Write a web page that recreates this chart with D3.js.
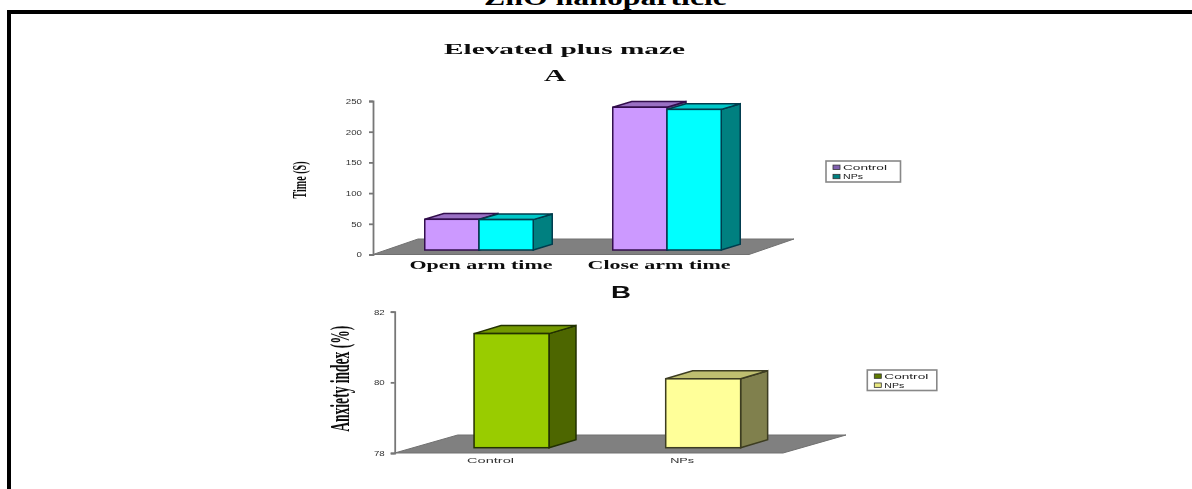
<!DOCTYPE html>
<html>
<head>
<meta charset="utf-8">
<script src="https://cdn.jsdelivr.net/npm/d3@7"></script>
<style>
html,body{margin:0;padding:0;background:#fff;overflow:hidden}
svg{display:block}
</style>
</head>
<body>
<svg id="c" width="1192" height="489"></svg>
<script>
// ---- data ----
const pageTitle = "ZnO nanoparticle";
const mainTitle = "Elevated plus maze";
const panelA = "A", panelB = "B";
const seriesNames = ["Control", "NPs"];
const categoriesA = ["Open arm time", "Close arm time"];
const controlA = [50, 232.5];
const npsA = [49.5, 229];
const ticksA = [0, 50, 100, 150, 200, 250];
const yLabelA = "Time (S)";
const categoriesB = ["Control", "NPs"];
const valuesB = [81.23, 79.95];
const ticksB = [78, 80, 82];
const yLabelB = "Anxiety index (%)";

// ---- styles ----
const purple = {front:"#CC99FF", top:"#9A70C4", side:"#66508A", line:"#33104d"};
const cyan   = {front:"#00FFFF", top:"#00C8C8", side:"#008080", line:"#003c4d"};
const green  = {front:"#99CC00", top:"#739900", side:"#4D6600", line:"#223000"};
const yellow = {front:"#FFFF99", top:"#BFBF70", side:"#80804D", line:"#3c3c20"};

const svg = d3.select("#c");
const defs = svg.append("defs");
defs.append("filter").attr("id","soft").attr("x","-5%").attr("y","-5%").attr("width","110%").attr("height","110%")
  .append("feGaussianBlur").attr("stdDeviation",0.7);

// page frame
svg.append("text").text(pageTitle).attr("x",484).attr("y",4.5)
  .attr("textLength",243).attr("lengthAdjust","spacingAndGlyphs")
  .attr("font-family","Liberation Serif").attr("font-weight","bold").attr("font-size",24).attr("fill","#000");
svg.append("rect").attr("x",7).attr("y",10).attr("width",1185).attr("height",4).attr("fill","#000");
svg.append("rect").attr("x",7).attr("y",10).attr("width",4).attr("height",479).attr("fill","#000");

const root = svg.append("g").attr("filter","url(#soft)");
const poly = d3.line();

function stretched(g, str, x, y, len, size, fam, weight, anchor, fill){
  return g.append("text").text(str).attr("x",x).attr("y",y)
    .attr("textLength",len).attr("lengthAdjust","spacingAndGlyphs")
    .attr("text-anchor",anchor||"middle")
    .attr("font-family",fam).attr("font-weight",weight).attr("font-size",size)
    .attr("fill",fill||"#111");
}

function bar3d(g, x0, w, yTop, yBase, dx, dy, c){
  const sw = 1.5;
  g.append("path").attr("d",poly([[x0+w,yBase],[x0+w+dx,yBase-dy],[x0+w+dx,yTop-dy],[x0+w,yTop]])+"Z")
    .attr("fill",c.side).attr("stroke",c.line).attr("stroke-width",sw);
  g.append("path").attr("d",poly([[x0,yTop],[x0+dx,yTop-dy],[x0+w+dx,yTop-dy],[x0+w,yTop]])+"Z")
    .attr("fill",c.top).attr("stroke",c.line).attr("stroke-width",sw);
  g.append("rect").attr("x",x0).attr("y",yTop).attr("width",w).attr("height",yBase-yTop)
    .attr("fill",c.front).attr("stroke",c.line).attr("stroke-width",sw);
}

function floor(g, x0, x1, y0, dx, dy){
  g.append("path").attr("d",poly([[x0,y0],[x0+dx,y0-dy],[x1+dx,y0-dy],[x1,y0]])+"Z")
    .attr("fill","#808080").attr("stroke","#707070").attr("stroke-width",1);
}

function yAxis(g, x, y, ticks, size, tickPad){
  const ax = g.append("g").attr("transform",`translate(${x},0)`)
    .call(d3.axisLeft(y).tickValues(ticks).tickSize(4).tickPadding(tickPad).tickFormat(d3.format("d")));
  ax.selectAll("path,line").attr("stroke","#777").attr("stroke-width",1.8);
  ax.selectAll("text").attr("font-family","Liberation Sans").attr("font-size",size).attr("fill","#333")
    .attr("textLength",d=>String(d).length*5.4).attr("lengthAdjust","spacingAndGlyphs");
  return ax;
}

function legend(g, x, y, w, h, colors, size, len){
  g.append("rect").attr("x",x).attr("y",y).attr("width",w).attr("height",h)
    .attr("fill","#fff").attr("stroke","#888").attr("stroke-width",1.6);
  seriesNames.forEach((n,i)=>{
    const cy = y + h*(0.29+0.44*i);
    g.append("rect").attr("x",x+7).attr("y",cy-2).attr("width",7).attr("height",4.4)
      .attr("fill",colors[i]).attr("stroke","#333").attr("stroke-width",0.8);
    stretched(g,n,x+17,cy+2.6,len[i],size,"Liberation Sans","normal","start","#222");
  });
}

function rotated(g, str, x, y, len, size){
  g.append("text").text(str)
    .attr("transform",`translate(${x},${y}) rotate(-90)`)
    .attr("text-anchor","middle").attr("textLength",len).attr("lengthAdjust","spacingAndGlyphs")
    .attr("font-family","Liberation Serif").attr("font-weight","bold").attr("font-size",size).attr("fill","#111");
}

// ---- chart A ----
const gA = root.append("g");
stretched(gA,mainTitle,564.5,54,241,15.5,"Liberation Serif","bold");
stretched(gA,panelA,555,81,22,17,"Liberation Serif","bold");

const xA = d3.scaleBand().domain(categoriesA).range([373,749]).paddingInner(0.423).paddingOuter(0.2115);
const yA = d3.scaleLinear().domain([0,250]).range([254.5,101]);
const offA = 12, baseA = 4.5, dxA = 19, dyA = 5.7, labelShiftA = [2,-8];

floor(gA,373,749,254.5,45,15.5);
yAxis(gA,373,yA,ticksA,7.5,7);
const wA = xA.bandwidth()/2;
categoriesA.forEach((c,i)=>{
  const x0 = xA(c)+offA;
  bar3d(gA,x0,wA,yA(controlA[i])-baseA,yA(0)-baseA,dxA,dyA,purple);
  bar3d(gA,x0+wA,wA,yA(npsA[i])-baseA,yA(0)-baseA,dxA,dyA,cyan);
  stretched(gA,c,xA(c)+xA.bandwidth()/2+offA+labelShiftA[i],269,143,12.5,"Liberation Serif","bold");
});
rotated(gA,yLabelA,306,180,37,19);
legend(gA,826,161,74.5,21,["#8060B0","#008080"],7.5,[44,20]);

// ---- chart B ----
const gB = root.append("g");
stretched(gB,panelB,621,298,20,16,"Liberation Sans","bold");

const xB = d3.scaleBand().domain(categoriesB).range([394.7,778]).paddingInner(0.609).paddingOuter(0.3045);
const yB = d3.scaleLinear().domain([78,82]).range([453,311.7]);
const offB = 21, baseB = 5.3, dxB = 27, dyB = 8;
const barColorsB = [green,yellow];

floor(gB,394.7,783,453,63,18);
yAxis(gB,394.7,yB,ticksB,7.5,6);
categoriesB.forEach((c,i)=>{
  bar3d(gB,xB(c)+offB,xB.bandwidth(),yB(valuesB[i])-baseB,yB(78)-baseB,dxB,dyB,barColorsB[i]);
  stretched(gB,c,xB(c)+xB.bandwidth()/2,462.7,i?24:47,7.5,"Liberation Sans","normal","middle","#333");
});
rotated(gB,yLabelB,349,378.7,106,27);
legend(gB,867.3,370,69.5,20.5,["#5E7A00","#E8E880"],7.5,[44,20]);
</script>
</body>
</html>
